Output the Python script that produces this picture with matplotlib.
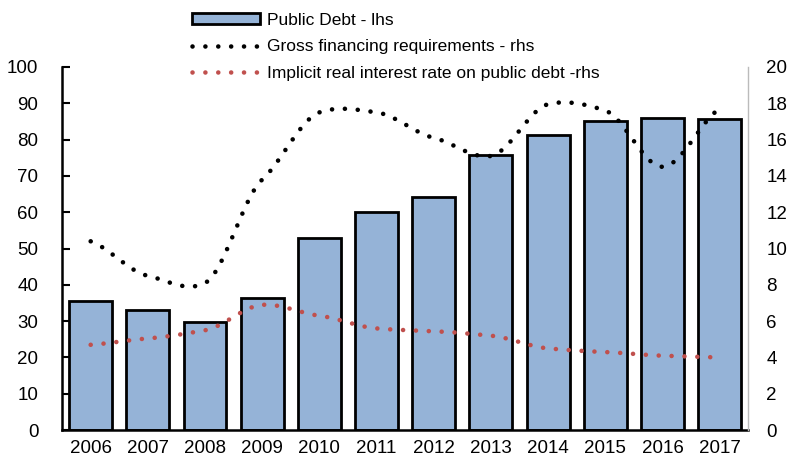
import numpy as np
import matplotlib.pyplot as plt

plt.rcParams['font.family'] = ['Liberation Sans', 'DejaVu Sans']

years = ['2006', '2007', '2008', '2009', '2010', '2011',
         '2012', '2013', '2014', '2015', '2016', '2017']
public_debt = [35.5, 33.0, 29.7, 36.5, 53.0, 60.0, 64.3, 75.8, 81.2, 85.0, 86.0, 85.7]
gross_fin = [10.4, 8.5, 8.1, 13.8, 17.5, 17.5, 16.1, 15.1, 17.95, 17.6, 14.5, 17.7]
real_rate = [4.7, 5.05, 5.5, 6.9, 6.3, 5.6, 5.45, 5.2, 4.5, 4.3, 4.1, 4.0]


def smooth(x, y, s=0.3, n=20):
    # cardinal spline through the points (Excel-like smoothed line)
    x = np.asarray(x, float)
    y = np.asarray(y, float)
    my = np.zeros_like(y)
    my[1:-1] = s * (y[2:] - y[:-2])
    my[0] = s * 2 * (y[1] - y[0])
    my[-1] = s * 2 * (y[-1] - y[-2])
    t = np.linspace(0, 1, n, endpoint=False)
    h00 = 2 * t**3 - 3 * t**2 + 1
    h10 = t**3 - 2 * t**2 + t
    h01 = -2 * t**3 + 3 * t**2
    h11 = t**3 - t**2
    xs, ys = [], []
    for i in range(len(x) - 1):
        xs.extend(x[i] + t * (x[i + 1] - x[i]))
        ys.extend(h00 * y[i] + h10 * my[i] + h01 * y[i + 1] + h11 * my[i + 1])
    xs.append(x[-1])
    ys.append(y[-1])
    return np.array(xs), np.array(ys)


fig = plt.figure(figsize=(7.96, 4.62), dpi=100)
ax = fig.add_axes([0.078, 0.069, 0.862, 0.786])
ax2 = ax.twinx()

x = np.arange(len(years))
bars = ax.bar(x, public_debt, width=0.75, color='#95B3D7', edgecolor='black',
              linewidth=2, label='Public Debt - lhs', zorder=2)

dots = (0, (0.01, 2.8))
sx, sy = smooth(x, gross_fin)
l1, = ax2.plot(sx, sy, color='black', linewidth=3.3, linestyle=dots,
               dash_capstyle='round', label='Gross financing requirements - rhs')
sx, sy = smooth(x, real_rate)
l2, = ax2.plot(sx, sy, color='#C0504D', linewidth=3.3, linestyle=dots,
               dash_capstyle='round', label='Implicit real interest rate on public debt -rhs')

ax.set_xlim(-0.5, len(years) - 0.5)
ax.set_ylim(0, 100)
ax.set_yticks(range(0, 101, 10))
ax2.set_ylim(0, 20)
ax2.set_yticks(range(0, 21, 2))
ax.set_xticks(x)
ax.set_xticklabels(years)

for a in (ax, ax2):
    a.spines['top'].set_visible(False)
    a.tick_params(labelsize=13.5)
ax.spines['left'].set_linewidth(1.8)
ax.spines['bottom'].set_linewidth(1.8)
ax.spines['right'].set_visible(False)
ax2.spines['left'].set_visible(False)
ax2.spines['bottom'].set_visible(False)
ax2.spines['right'].set_color('#BBBBBB')
ax2.spines['right'].set_linewidth(1)
ax.tick_params(axis='y', direction='in', length=6, width=1.5, pad=17)
ax.tick_params(axis='x', length=0, pad=7)
ax2.tick_params(axis='y', length=0, pad=13)

ax.set_zorder(ax2.get_zorder() - 1)
ax2.patch.set_visible(False)

fig.legend([bars, l1, l2], [bars.get_label(), l1.get_label(), l2.get_label()],
           loc='upper left', bbox_to_anchor=(0.224, 1.003), frameon=False,
           fontsize=12.5, handlelength=3.9, labelspacing=0.68, borderpad=0.3,
           handleheight=0.55, handletextpad=0.4)

plt.savefig('out.png', dpi=100)
